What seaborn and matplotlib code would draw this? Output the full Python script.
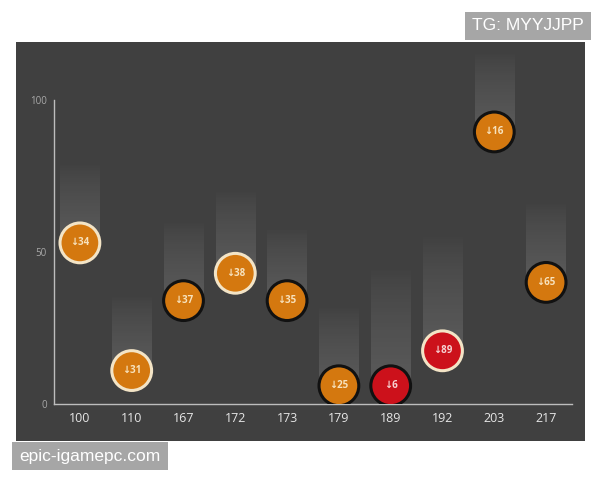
import numpy as np
import pandas as pd
import matplotlib
matplotlib.use("Agg")
import matplotlib.pyplot as plt
import seaborn as sns
from matplotlib.patches import Rectangle

# ==========================================
# DATA
# ==========================================
categories = ["100", "110", "167", "172", "173", "179", "189", "192", "203", "217"]
values = [53, 11, 34, 43, 34, 6, 6, 17.5, 89.5, 40]
labels = ["↓34", "↓31", "↓37", "↓38", "↓35", "↓25", "↓6", "↓89", "↓16", "↓65"]
trail = [26, 25, 26, 27, 24, 26, 39, 38, 26, 26]
fill = ["orange", "orange", "orange", "orange", "orange", "orange", "red", "red", "orange", "orange"]
ring = ["light", "light", "dark", "light", "dark", "dark", "dark", "light", "dark", "dark"]

df = pd.DataFrame({"cat": categories, "value": values, "label": labels,
                   "trail": trail, "fill": fill, "ring": ring})
df["pos"] = np.arange(len(df))

fill_colors = {"orange": "#d4780f", "red": "#cc111b"}
ring_colors = {"light": "#f3e4c6", "dark": "#111111"}
text_colors = {"orange": "#f7e2bd", "red": "#f6d2d2"}

# ==========================================
# FIGURE
# ==========================================
sns.set_style("white")
plt.rcParams["font.family"] = ["Open Sans", "DejaVu Sans"]

fig = plt.figure(figsize=(6, 4.8), dpi=100, facecolor="white")
panel = Rectangle((16 / 600, 1 - 441 / 480), 569 / 600, 399 / 480,
                  transform=fig.transFigure, facecolor="#404040",
                  edgecolor="none", zorder=-10)
fig.add_artist(panel)

ax = fig.add_axes([54 / 600, 1 - 404 / 480, 518 / 600, 362 / 480])
ax.set_facecolor("none")
ax.set_zorder(1)

# gradient trails above each ball (bright at the ball, fading upward)
grad = np.zeros((100, 1, 4))
grad[..., :3] = 1.0
grad[:, 0, 3] = 0.14 * np.linspace(1.0, 0.0, 100) ** 0.7
for _, r in df.iterrows():
    ax.imshow(grad, extent=(r.pos - 0.38, r.pos + 0.38, r.value, r.value + r.trail),
              origin="lower", aspect="auto", interpolation="bilinear", zorder=1)

sns.scatterplot(data=df, x="pos", y="value", hue="fill", palette=fill_colors,
                edgecolor=[ring_colors[k] for k in df["ring"]], linewidth=2.2,
                s=820, legend=False, ax=ax, zorder=3)

for _, r in df.iterrows():
    ax.text(r.pos, r.value, r.label, ha="center", va="center", fontsize=7,
            fontweight="bold", color=text_colors[r.fill], zorder=4)

ax.set_xlim(-0.5, 9.5)
ax.set_ylim(0, 362 / 3.04)
ax.set_xticks(df["pos"])
ax.set_xticklabels(categories)
ax.set_yticks([0, 50, 100])
ax.set_xlabel("")
ax.set_ylabel("")

for side in ["top", "right"]:
    ax.spines[side].set_visible(False)
ax.spines["left"].set_bounds(0, 100)
for side in ["left", "bottom"]:
    ax.spines[side].set_color("#bdbdbd")
    ax.spines[side].set_linewidth(1)

ax.tick_params(axis="x", colors="#bdbdbd", labelcolor="#e6e6e6", labelsize=9,
               length=3, width=0.8, direction="out", pad=3)
ax.tick_params(axis="y", colors="#bdbdbd", labelcolor="#a8a8a8", labelsize=7,
               length=3, width=0.8, direction="out", pad=2)

# watermarks
fig.text(528 / 600, 1 - 26 / 480, "TG: MYYJJPP", ha="center", va="center",
         fontsize=12.5, color="white", family="Liberation Sans",
         bbox=dict(boxstyle="square,pad=0.4", facecolor="#a6a6a6", edgecolor="none"))
fig.text(90 / 600, 1 - 456 / 480, "epic-igamepc.com", ha="center", va="center",
         fontsize=12.5, color="white", family="Liberation Sans",
         bbox=dict(boxstyle="square,pad=0.4", facecolor="#a6a6a6", edgecolor="none"))

plt.savefig("out.png", dpi=100, facecolor="white")
